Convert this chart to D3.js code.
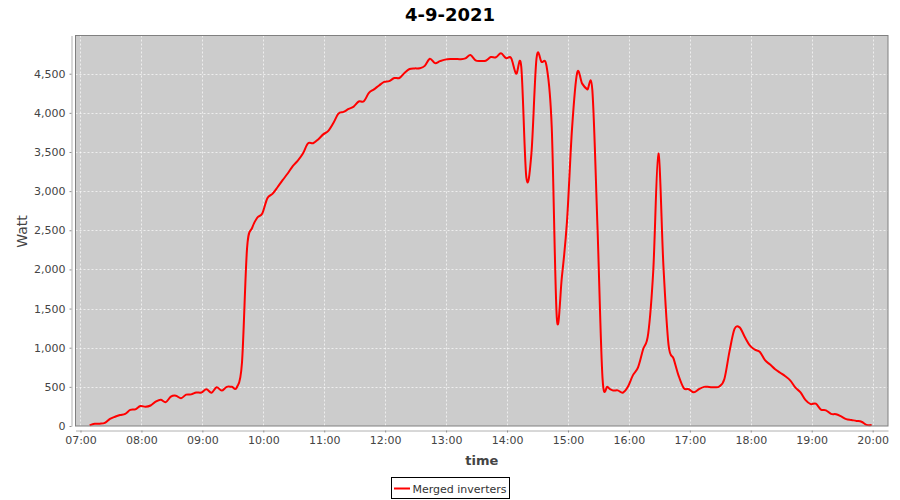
<!DOCTYPE html>
<html><head><meta charset="utf-8">
<script src="https://cdn.jsdelivr.net/npm/d3@7"></script>
<style>body{margin:0;background:#fff} svg{display:block;font-family:"DejaVu Sans",sans-serif}</style>
</head><body><svg id="c" width="900" height="500"></svg>
<script>
const chartTitle = "4-9-2021";
const seriesName = "Merged inverters";
const xLabel = "time";
const yLabel = "Watt";
const times = [
"07:09","07:14","07:19","07:24","07:29","07:34","07:39","07:44","07:49","07:54","07:59",
"08:04","08:09","08:14","08:19","08:24","08:29","08:34","08:39","08:44","08:49","08:54","08:59",
"09:04","09:09","09:14","09:19","09:24","09:29","09:34","09:39","09:44","09:49","09:54","09:59",
"10:04","10:09","10:14","10:19","10:24","10:29","10:34","10:39","10:44","10:49","10:54","10:59",
"11:04","11:09","11:14","11:19","11:24","11:29","11:34","11:39","11:44","11:49","11:54","11:59",
"12:04","12:09","12:14","12:19","12:24","12:29","12:34","12:39","12:44","12:49","12:54","12:59",
"13:04","13:09","13:14","13:19","13:24","13:29","13:34","13:39","13:44","13:49","13:54","13:59",
"14:04","14:09","14:14","14:19","14:24","14:29","14:34","14:39","14:44","14:49","14:54","14:59",
"15:04","15:09","15:14","15:19","15:24","15:29","15:34","15:39","15:44","15:49","15:54","15:59",
"16:04","16:09","16:14","16:19","16:24","16:29","16:34","16:39","16:44","16:49","16:54","16:59",
"17:04","17:09","17:14","17:19","17:24","17:29","17:34","17:39","17:44","17:49","17:54","17:59",
"18:04","18:09","18:14","18:19","18:24","18:29","18:34","18:39","18:44","18:49","18:54","18:59",
"19:04","19:09","19:14","19:19","19:24","19:29","19:34","19:39","19:44","19:49","19:54","19:59"
];
const watts = [
8,28,30,40,90,118,140,155,205,213,255,
245,262,310,335,305,375,387,355,400,404,428,428,
470,425,495,452,500,500,495,808,2268,2530,2660,2715,
2910,2965,3050,3140,3225,3320,3390,3480,3610,3612,3660,3725,
3770,3870,3990,4012,4050,4080,4145,4147,4255,4300,4350,4395,
4406,4445,4445,4510,4560,4568,4570,4600,4690,4635,4660,4680,
4688,4688,4685,4695,4738,4670,4662,4666,4713,4710,4760,4700,
4700,4500,4590,3175,3480,4692,4650,4590,3819,1385,1905,2607,
3799,4510,4373,4300,4290,2565,615,500,455,455,425,500,
650,750,980,1180,1990,3480,2040,1040,860,640,485,470,
430,470,500,498,495,505,600,950,1240,1260,1140,1030,
975,945,840,785,725,680,635,580,490,430,330,280,
285,210,200,155,150,122,88,77,65,55,15,12
];
const yTicks = [0,500,1000,1500,2000,2500,3000,3500,4000,4500];
const xDomain = ["06:55:05","20:15:07"];
const yDomain = [0, 4988];

const day = t => { const p = t.split(":").map(Number); return new Date(2021,8,4,p[0],p[1],p[2]||0); };
const data = times.map((t,i)=>({t:day(t), v:watts[i]}));

const L=75.5, R=888, T=35.5, B=426;
const svg = d3.select("#c");
const x = d3.scaleTime().domain(xDomain.map(day)).range([L,R]);
const y = d3.scaleLinear().domain(yDomain).range([B,T]);

// plot background
svg.append("rect").attr("x",L).attr("y",T).attr("width",R-L).attr("height",B-T).attr("fill","#cccccc");

const hourTicks = x.ticks(d3.timeHour.every(1));
// grid
svg.append("g").selectAll("line").data(hourTicks).join("line")
  .attr("x1",d=>Math.round(x(d))+0.5).attr("x2",d=>Math.round(x(d))+0.5)
  .attr("y1",T).attr("y2",B)
  .attr("stroke","#ffffff").attr("stroke-opacity",0.85).attr("stroke-width",0.8).attr("stroke-dasharray","2,2");
svg.append("g").selectAll("line").data(yTicks.slice(1)).join("line")
  .attr("x1",L).attr("x2",R)
  .attr("y1",d=>Math.round(y(d))+0.5).attr("y2",d=>Math.round(y(d))+0.5)
  .attr("stroke","#ffffff").attr("stroke-opacity",0.85).attr("stroke-width",0.8).attr("stroke-dasharray","2,2");

// series line
const line = d3.line().x(d=>x(d.t)).y(d=>y(d.v)).curve(d3.curveCardinal.tension(0));
svg.append("path").datum(data).attr("d",line)
  .attr("fill","none").attr("stroke","#ff0000").attr("stroke-width",2).attr("stroke-linejoin","round");

// plot outline
svg.append("rect").attr("x",L).attr("y",T).attr("width",R-L).attr("height",B-T)
  .attr("fill","none").attr("stroke","#808080").attr("stroke-width",1);

// y axis
const yAxis = svg.append("g").attr("transform","translate(71.5,0)")
  .call(d3.axisLeft(y).tickValues(yTicks).tickFormat(d3.format(",")).tickSize(2).tickSizeOuter(0).tickPadding(4));
yAxis.select(".domain").attr("stroke","#b0b0b0");
yAxis.selectAll(".tick line").attr("stroke","#909090");
yAxis.selectAll("text").attr("font-size",11).attr("fill","#444").attr("font-family","DejaVu Sans");

// x axis
const xAxis = svg.append("g").attr("transform","translate(0,430.5)")
  .call(d3.axisBottom(x).tickValues(hourTicks).tickFormat(d3.timeFormat("%H:%M")).tickSize(2).tickSizeOuter(0).tickPadding(4));
xAxis.select(".domain").attr("stroke","#b0b0b0");
xAxis.selectAll(".tick line").attr("stroke","#909090");
xAxis.selectAll("text").attr("font-size",11).attr("fill","#444").attr("font-family","DejaVu Sans");

// title
svg.append("text").attr("x",450).attr("y",21).attr("text-anchor","middle")
  .attr("font-size",18).attr("font-weight","bold").attr("fill","#000").text(chartTitle);
// axis labels
svg.append("text").attr("x",(L+R)/2).attr("y",465).attr("text-anchor","middle")
  .attr("font-size",13).attr("font-weight","bold").attr("fill","#444").text(xLabel);
svg.append("text").attr("transform",`translate(27,231.5) rotate(-90)`).attr("text-anchor","middle")
  .attr("font-size",14).attr("fill","#444").text(yLabel);

// legend
const lg = svg.append("g");
lg.append("rect").attr("x",391.5).attr("y",477.5).attr("width",118).attr("height",21)
  .attr("fill","#fff").attr("stroke","#000").attr("stroke-width",1);
lg.append("line").attr("x1",394).attr("x2",410).attr("y1",488.5).attr("y2",488.5)
  .attr("stroke","#ff0000").attr("stroke-width",2);
lg.append("text").attr("x",412.5).attr("y",492.5).attr("font-size",11).attr("fill","#333").text(seriesName);
</script></body></html>
